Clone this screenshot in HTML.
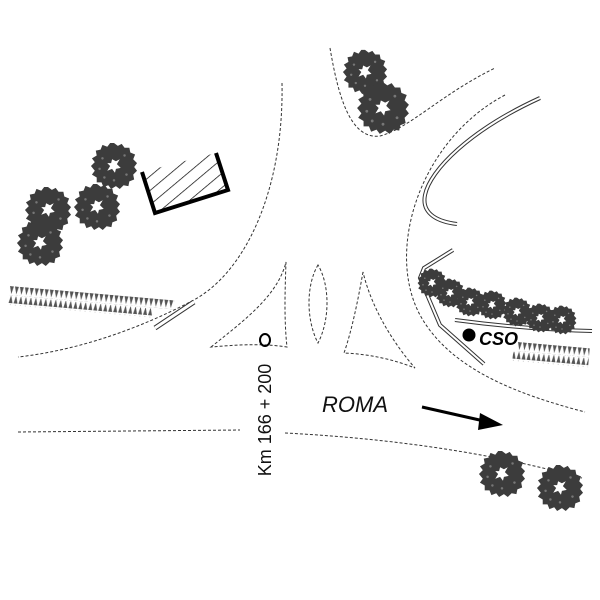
<!DOCTYPE html>
<html><head><meta charset="utf-8"><style>html,body{margin:0;padding:0;background:#fff}svg{display:block}</style></head>
<body>
<svg width="600" height="600" viewBox="0 0 600 600" xmlns="http://www.w3.org/2000/svg">
<defs>
<symbol id="tree" viewBox="-25 -25 50 50" overflow="visible">
<polygon fill="#3c3c3c" points="0,-24 4,-21 8,-23 11,-19 16,-19 17,-14 22,-12 20,-7 24,-3 21,1 24,5 20,9 21,14 16,16 15,21 10,20 6,24 2,21 -3,24 -6,20 -11,22 -13,17 -18,17 -18,12 -23,9 -20,5 -24,0 -20,-4 -23,-8 -18,-11 -19,-16 -14,-17 -12,-22 -7,-20 -4,-24"/>
<polygon fill="#fff" points="-2,-7 2,-5 6,-7 3,-2 7,2 2,3 1,7 -2,3 -7,5 -4,0 -7,-3 -3,-3"/>
<g fill="#777"><circle cx="-12" cy="-8" r="1.3"/><circle cx="11" cy="-11" r="1.3"/><circle cx="13" cy="9" r="1.3"/><circle cx="-10" cy="12" r="1.3"/><circle cx="0" cy="15" r="1.3"/><circle cx="-15" cy="3" r="1.3"/></g>
</symbol>
<pattern id="hatch" width="11" height="11" patternUnits="userSpaceOnUse" patternTransform="rotate(-40)">
<line x1="0" y1="0" x2="11" y2="0" stroke="#000" stroke-width="1.4"/>
</pattern>
<pattern id="hdown" width="5" height="9" patternUnits="userSpaceOnUse"><polygon points="0,0 4,0 2,8" fill="#555"/></pattern>
<pattern id="hup" width="5" height="9" patternUnits="userSpaceOnUse"><polygon points="2,0 0,8 4,8" fill="#555"/></pattern>
</defs>

<g fill="none" stroke="#333" stroke-width="1" stroke-dasharray="3,2">
<path d="M282,83 C284,190 245,275 190,302 C140,328 80,350 18,357"/>
<path d="M330,48 C338,95 350,140 380,136 C410,128 440,95 495,68"/>
<path d="M505,95 C420,140 385,250 420,315 C450,370 520,395 585,412"/>
<path d="M18,432 L240,430"/>
<path d="M285,433 C380,438 480,450 582,478"/>
<path d="M211,347 C245,320 278,295 286,262 C285,290 284,320 287,347 C260,343 235,345 211,347Z"/>
<path d="M318,265 C306,285 306,320 318,343 C330,320 330,285 318,265Z"/>
<path d="M363,272 C358,300 352,330 344,353 C370,354 395,360 415,368 C395,345 372,310 363,272Z"/>
</g>

<g fill="none" stroke-linecap="butt">
<path d="M540,98 C470,130 430,170 425,195 C421,215 440,222 457,224" stroke="#333" stroke-width="4"/>
<path d="M540,98 C470,130 430,170 425,195 C421,215 440,222 457,224" stroke="#fff" stroke-width="2"/>
<path d="M453,250 L424,268 L420,278 L440,325 L484,364" stroke="#333" stroke-width="4"/>
<path d="M453,250 L424,268 L420,278 L440,325 L484,364" stroke="#fff" stroke-width="2"/>
<path d="M455,320 C500,326 550,330 592,331" stroke="#333" stroke-width="4"/>
<path d="M455,320 C500,326 550,330 592,331" stroke="#fff" stroke-width="2"/>
<path d="M155,328 L194,302" stroke="#333" stroke-width="5"/>
<path d="M155,328 L194,302" stroke="#fff" stroke-width="3"/>
</g>

<g transform="translate(10,286) rotate(5)"><rect x="0" y="0" width="165" height="9" fill="url(#hdown)"/><rect x="0" y="10" width="145" height="9" fill="url(#hup)"/></g>
<g transform="translate(518,342) rotate(5)"><rect x="0" y="0" width="72" height="9" fill="url(#hdown)"/><rect x="-4" y="10" width="76" height="9" fill="url(#hup)"/></g>

<polygon points="142,172 155,213 228,190 216,153" fill="url(#hatch)"/>
<polyline points="142,172 155,213 228,190 216,153" fill="none" stroke="#000" stroke-width="4"/>

<use href="#tree" x="90" y="142" width="48" height="48"/>
<use href="#tree" x="73" y="183" width="48" height="48"/>
<use href="#tree" x="24" y="186" width="48" height="48"/>
<use href="#tree" x="16" y="219" width="48" height="48"/>
<use href="#tree" x="342" y="49" width="46" height="46"/>
<use href="#tree" x="356" y="81" width="54" height="54"/>
<use href="#tree" x="478" y="450" width="48" height="48"/>
<use href="#tree" x="536" y="464" width="48" height="48"/>
<use href="#tree" x="417" y="268" width="30" height="30"/>
<use href="#tree" x="435" y="278" width="30" height="30"/>
<use href="#tree" x="455" y="287" width="30" height="30"/>
<use href="#tree" x="477" y="290" width="30" height="30"/>
<use href="#tree" x="502" y="297" width="30" height="30"/>
<use href="#tree" x="525" y="303" width="30" height="30"/>
<use href="#tree" x="547" y="305" width="30" height="30"/>

<circle cx="469" cy="335" r="6.5" fill="#000"/>
<text x="479" y="345" font-family="Liberation Sans, sans-serif" font-size="18" font-weight="bold" font-style="italic">CSO</text>

<ellipse cx="265" cy="340" rx="5" ry="6" fill="none" stroke="#000" stroke-width="2"/>
<text transform="translate(271,420) rotate(-90)" text-anchor="middle" font-family="Liberation Sans, sans-serif" font-size="18" fill="#111">Km 166 + 200</text>

<text x="322" y="412" font-family="Liberation Sans, sans-serif" font-size="22" font-style="italic" fill="#111">ROMA</text>
<line x1="422" y1="407" x2="484" y2="421" stroke="#000" stroke-width="3"/>
<polygon points="503,425 480,413 478,430" fill="#000"/>
</svg>
</body></html>
